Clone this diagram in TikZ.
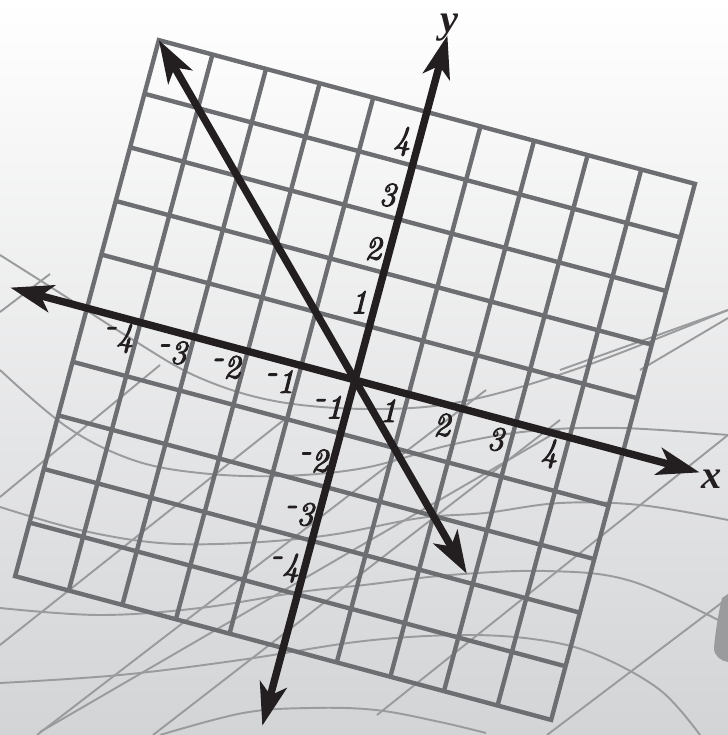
\documentclass[tikz,border=0pt]{standalone}
\usepackage{fontspec}
\usepackage{tikz}
\usetikzlibrary{arrows.meta}
\newfontfamily\tickfont{lmroman10-italic.otf}[FakeBold=3]
\newfontfamily\namefont{Liberation Serif}
\definecolor{AxisBlack}{HTML}{231F20}
\definecolor{GridGrey}{HTML}{6D6E71}
\definecolor{WaveGrey}{HTML}{9A9B9D}
\definecolor{PaperLow}{HTML}{D3D4D6}
\newcommand{\neglab}[1]{\raisebox{0.33em}{-}\kern-0.02em#1}

\begin{document}
\begin{tikzpicture}[
    x=0.02cm, y=-0.02cm,
    >={Stealth[length=0.85cm, width=0.55cm, inset=0.22cm]},
    axis/.style={AxisBlack, line width=4.2pt, <->},
    gridline/.style={GridGrey, line width=2.5pt},
    wave/.style={WaveGrey, line width=1.1pt},
    tick/.style={font=\tickfont\fontsize{19}{22}\selectfont, text=AxisBlack, inner sep=0pt},
    axname/.style={font=\namefont\bfseries\itshape\fontsize{23}{27}\selectfont, text=AxisBlack, inner sep=0pt}
]
  \useasboundingbox (0,0) rectangle (728,735);
  % Paper
  \shade[top color=white, bottom color=PaperLow] (0,0) rectangle (728,735);
  % Waves behind the grid
  \draw[wave] plot[smooth, tension=0.6] coordinates {(0,255) (60,293) (130,338) (200,378) (280,402) (380,409) (470,400) (585,366) (728,310)};
  \draw[wave] plot[smooth, tension=0.6] coordinates {(0,370) (67,427) (133,460) (200,473) (280,476) (364,468) (450,445) (531,431) (620,428) (728,435)};
  \draw[wave] plot[smooth, tension=0.6] coordinates {(0,507) (80,530) (160,543) (243,543) (330,535) (420,518) (485,513) (560,503) (640,505) (728,520)};
  \draw[wave] plot[smooth, tension=0.6] coordinates {(0,608) (100,615) (200,608) (300,592) (364,585) (450,575) (547,571) (631,581) (728,625)};
  \draw[wave] plot[smooth, tension=0.6] coordinates {(0,683) (120,675) (240,660) (364,641) (464,635) (540,640) (597,655) (660,690) (700,735)};
  \draw[wave] plot[smooth, tension=0.6] coordinates {(160,735) (243,713) (310,708) (376,710) (440,722) (486,733)};
  \draw[wave] (0,312) -- (50,274);
  \draw[wave] (0,497) -- (160,365);
  \draw[wave] (0,645) -- (290,415);
  \draw[wave] (37,735) -- (486,390);
  \draw[wave] (153,735) -- (560,420);
  \draw[wave] (377,715) -- (728,435);
  \draw[wave] (547,735) -- (728,598);
  \draw[wave] (40,732) -- (560,430);
  \draw[wave] (560,370) -- (728,310);
  \draw[wave] (640,370) -- (728,318);
  \fill[WaveGrey] (728,594) -- (722,598) .. controls (718,615) and (715,635) .. (714,648)
    .. controls (714,656) and (721,661) .. (728,662) -- cycle;
  % Rotated plane
  \begin{scope}[shift={(355,380)}, x={(1.0723cm,-0.2875cm)}, y={(0.2875cm,1.0723cm)}]
    \foreach \k in {-4,...,4} {
      \draw[gridline] (\k,-5) -- (\k,5);
      \draw[gridline] (-5,\k) -- (5,\k);
    }
    \draw[gridline, line join=miter] (-5,-5) -- (5,-5) -- (5,5) -- (-5,5) -- cycle;
    % Axes and line
    \coordinate (O) at (0,0);
    \coordinate (xw) at (-6.43,0);
    \coordinate (xe) at (6.43,0);
    \coordinate (ys) at (0,-6.45);
    \coordinate (yn) at (0,6.43);
    \coordinate (lnw) at (-5,5);
    \coordinate (lse) at (2.85,-2.85);
    \draw[axis] (xw) -- (xe);
    \draw[axis] (ys) -- (yn);
    \draw[axis] (lnw) -- (lse);
    % Tick labels
    \foreach \k in {1,...,4} {
      \node[tick] (xp\k) at (\k-0.28,-0.38) {\k};
      \node[tick] (xm\k) at (-\k-0.3,-0.38) {\neglab{\k}};
      \node[tick] (yp\k) at (-0.3,\k+0.37) {\k};
      \node[tick] (ym\k) at (-0.34,-\k+0.40) {\neglab{\k}};
    }
    \node[axname] (xname) at (6.67,-0.06) {x};
    \node[axname] (yname) at (0.0,6.58) {y};
  \end{scope}
\end{tikzpicture}
\end{document}
